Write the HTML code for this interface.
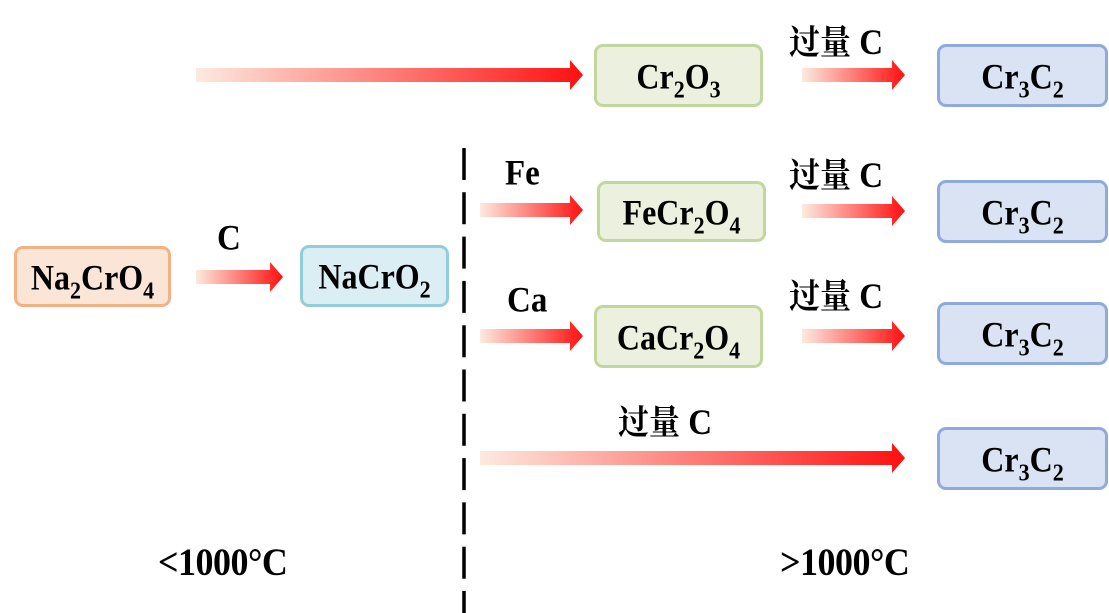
<!DOCTYPE html>
<html><head><meta charset="utf-8"><style>
body{margin:0;width:1109px;height:613px;background:#fff;position:relative;overflow:hidden;font-family:"Liberation Serif","Noto Serif CJK SC",serif;font-weight:bold;color:#000}
.b{position:absolute;box-sizing:border-box;border:3px solid;border-radius:9px;display:flex;align-items:center;justify-content:center;font-size:32px;line-height:1}
.b span{display:inline-block;transform:scaleY(1.12)}
sub{font-size:22px;vertical-align:-8px;line-height:0}
.o{background:#fbe5d6;border-color:#f4b183}
.c{background:#dbeef4;border-color:#92cddc}
.g{background:#ebf1de;border-color:#c3d69b}
.u{background:#dae3f3;border-color:#8faadc}
.t{position:absolute;font-size:33px;line-height:1;white-space:nowrap;transform-origin:left top;transform:scaleY(1.1)}
.cj{font-family:"Noto Serif CJK SC","Liberation Serif",serif;font-weight:bold;font-size:31px}
svg{position:absolute;left:0;top:0}
</style></head><body>
<svg width="1109" height="613">
<defs><linearGradient id="gr" x1="0" x2="1" y1="0" y2="0"><stop offset="0" stop-color="#fdeadf"/><stop offset="1" stop-color="#ff1010"/></linearGradient></defs>
<g fill="url(#gr)">
<path d="M196 68H570V60L583 75L570 90V82H196Z"/>
<path d="M196 270H270V262L283 277L270 292V284H196Z"/>
<path d="M480 203H570V195L583 210L570 225V217H480Z"/>
<path d="M480 329H570V321L583 336L570 351V343H480Z"/>
<path d="M802 68H892V60L905 75L892 90V82H802Z"/>
<path d="M802 204H892V196L905 211L892 226V218H802Z"/>
<path d="M802 329H892V321L905 336L892 351V343H802Z"/>
<path d="M480 451H892V443L905 458L892 473V465H480Z"/>
</g>
<line x1="464" y1="148" x2="464" y2="613" stroke="#000" stroke-width="3.5" stroke-dasharray="32 12.3"/>
</svg>
<div class="b o" style="left:14px;top:246px;width:157px;height:61px"><span>Na<sub>2</sub>CrO<sub>4</sub></span></div>
<div class="b c" style="left:300px;top:245px;width:149px;height:62px"><span>NaCrO<sub>2</sub></span></div>
<div class="b g" style="left:594px;top:44px;width:169px;height:63px"><span>Cr<sub>2</sub>O<sub>3</sub></span></div>
<div class="b g" style="left:597px;top:181px;width:169px;height:61px"><span>FeCr<sub>2</sub>O<sub>4</sub></span></div>
<div class="b g" style="left:594px;top:305px;width:169px;height:63px"><span>CaCr<sub>2</sub>O<sub>4</sub></span></div>
<div class="b u" style="left:937px;top:44px;width:171px;height:63px"><span>Cr<sub>3</sub>C<sub>2</sub></span></div>
<div class="b u" style="left:937px;top:180px;width:171px;height:63px"><span>Cr<sub>3</sub>C<sub>2</sub></span></div>
<div class="b u" style="left:937px;top:302px;width:171px;height:63px"><span>Cr<sub>3</sub>C<sub>2</sub></span></div>
<div class="b u" style="left:937px;top:427px;width:171px;height:63px"><span>Cr<sub>3</sub>C<sub>2</sub></span></div>
<div class="t" style="left:789px;top:22px"><span class="cj">过量</span> C</div>
<div class="t" style="left:789px;top:155px"><span class="cj">过量</span> C</div>
<div class="t" style="left:789px;top:276px"><span class="cj">过量</span> C</div>
<div class="t" style="left:618px;top:402px"><span class="cj">过量</span> C</div>
<div class="t" style="left:505px;top:156px">Fe</div>
<div class="t" style="left:217px;top:221px">C</div>
<div class="t" style="left:507px;top:283px">Ca</div>
<div class="t" style="left:158px;top:542px;font-size:36px;letter-spacing:-0.5px">&lt;1000°C</div>
<div class="t" style="left:780px;top:542px;font-size:36px;letter-spacing:-0.5px">&gt;1000°C</div>
</body></html>
